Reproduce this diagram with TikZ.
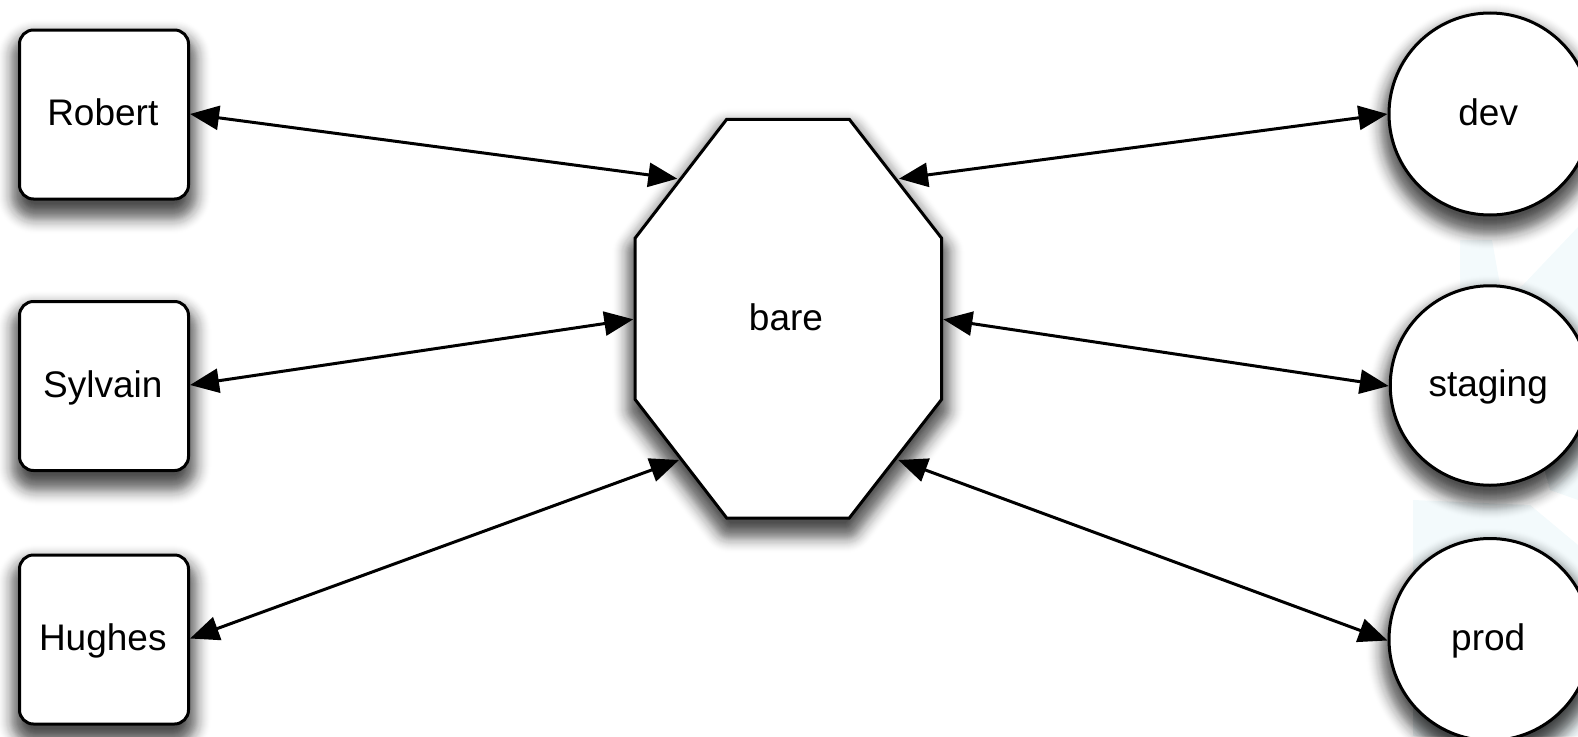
\documentclass[tikz,border=0pt]{standalone}
\usepackage{fontspec}
\setmainfont{Liberation Sans}
\usetikzlibrary{arrows.meta}
\definecolor{paleblue}{HTML}{F3FAFC}
\tikzset{
  label font/.style={font=\fontsize{37}{37}\selectfont, text height=29pt, text depth=7pt, inner sep=0pt, text=black},
  person/.style={label font, draw=black, fill=white, line width=3pt, rounded corners=14pt, minimum width=169pt, minimum height=169pt, execute at end node=\kern2.4pt},
  env/.style={label font, draw=black, fill=white, line width=3pt, circle, minimum size=202pt, execute at end node=\kern3.6pt},
  hub/.style={draw=black, fill=white, line width=3pt, line join=miter},
  link/.style={line width=3pt, {Triangle[length=29pt,width=24pt]}-{Triangle[length=29pt,width=24pt]}},
  halo/.style={draw=black, fill=black, line join=round},
}
% soft blurred shadow under a closed path: nested outlines, each one flat inside
\newcommand{\softshadow}[1]{%
  \foreach \d/\a in {1/.05,2/.05,3/.05,4/.05,5/.05,6/.05,7/.05,8/.05,9/.05,10/.05,11/.05,12/.05,13/.05,14/.05,15/.05,16/.05,17/.04,18/.04,19/.04,20/.03,21/.03,22/.03,23/.02,24/.02,25/.02,26/.015,27/.015,28/.01,29/.01,30/.005,31/.005}{%
    \begin{scope}[transparency group, opacity=\a]
      \path[halo, line width=2*\d pt, yshift=-12pt] #1;
    \end{scope}}%
}
\begin{document}
\begin{tikzpicture}[x=1pt,y=-1pt]
\clip (0,0) rectangle (1578,736);
\useasboundingbox (0,0) rectangle (1578,736);
% pale background shape
\fill[paleblue] (1460,240) -- (1492,240) -- (1500,285) -- (1460,290) -- cycle;
\fill[paleblue] (1523,285) -- (1578,227) -- (1578,500) -- (1550,490) -- (1500,300) -- cycle;
\fill[paleblue] (1413,500) -- (1530,505) -- (1578,545) -- (1578,736) -- (1413,736) -- cycle;
% shadows
\foreach \cy in {114.5,386,639.5}{
  \pgfmathsetmacro\ctop{\cy-76.5}\pgfmathsetmacro\cbot{\cy+76.5}
  \softshadow{[rounded corners=8pt] (27.5,\ctop) rectangle (180.5,\cbot)}
}
\foreach \cy/\r in {114/93,385.5/91.5,639.5/93}{
  \softshadow{(1490,\cy) circle[radius=\r pt]}
}
\softshadow{(730.5,127.3) -- (845.5,127.3) -- (933.7,241.5) -- (933.7,396) -- (845.5,510) -- (730.5,510) -- (643,396) -- (643,241.5) -- cycle}
% people
\node[person] (robert) at (104,114.5) {Robert};
\node[person] (sylvain) at (104,386) {Sylvain};
\node[person] (hughes) at (104,639.5) {Hughes};
% environments
\node[env] (dev) at (1490,114) {dev};
\node[env, minimum size=199.5pt] (staging) at (1490,385.5) {staging};
\node[env] (prod) at (1490,639.5) {prod};
% hub
\draw[hub] (726.7,119.3) -- (849.3,119.3) -- (941.7,238.3) -- (941.7,399.3) -- (849.3,518) -- (726.7,518) -- (635,399.3) -- (635,238.3) -- cycle;
\node[label font] (bare) at (786,319) {bare};
\coordinate (bareRT) at (677.3,178.7);
\coordinate (bareRM) at (633.3,319.3);
\coordinate (bareRB) at (679,460);
\coordinate (bareET) at (899,178.7);
\coordinate (bareEM) at (943.3,319.3);
\coordinate (bareEB) at (898.3,460);
% connectors
\draw[link] ([yshift=0.5pt]robert.east) -- (bareRT);
\draw[link] ([yshift=1pt]sylvain.east) -- (bareRM);
\draw[link] ([yshift=1pt]hughes.east) -- (bareRB);
\draw[link] (bareET) -- (dev.west);
\draw[link] (bareEM) -- ([yshift=-0.5pt]staging.west);
\draw[link] (bareEB) -- ([yshift=-1pt]prod.west);
\end{tikzpicture}
\end{document}
